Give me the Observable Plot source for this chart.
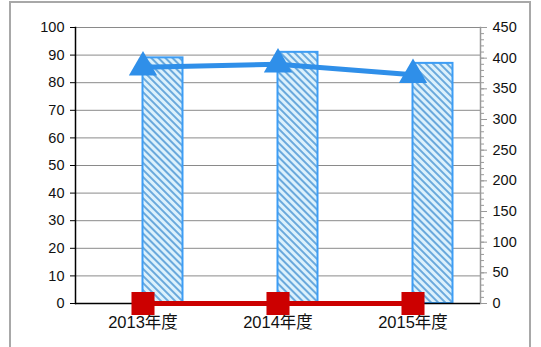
<!DOCTYPE html>
<html><head><meta charset="utf-8">
<script src="https://cdn.jsdelivr.net/npm/d3@7"></script>
<script src="https://cdn.jsdelivr.net/npm/@observablehq/plot@0.6"></script>
<style>
body{margin:0;background:#fff;}
#wrap{position:relative;width:541px;height:347px;overflow:hidden;}
#frame{position:absolute;left:9px;top:1px;width:522px;height:400px;border:2px solid #a8a8a8;box-sizing:border-box;}
#chart{position:absolute;left:0;top:0;}
</style></head>
<body><div id="wrap"><div id="frame"></div><div id="chart"></div></div>
<script>
const categories = ["2013年度", "2014年度", "2015年度"];
const barValues = [89, 91, 87];          // left axis
const triangleValues = [385, 390, 373];  // right axis
const squareValues = [0, 0, 0];
const leftTicks = d3.range(0, 101, 10);
const rightTicks = d3.range(0, 451, 50);
const rightMinor = d3.range(0, 451, 10);
const rightMax = 450, leftMax = 100;
const toLeft = v => v * leftMax / rightMax;

const rows = categories.map((c, i) => ({c, bar: barValues[i], tri: triangleValues[i], sq: squareValues[i]}));

const font = "'Liberation Sans', 'Noto Sans CJK JP', sans-serif";
const chart = Plot.plot({
  width: 541, height: 347,
  marginLeft: 75, marginRight: 61, marginTop: 27, marginBottom: 44,
  style: {fontFamily: font, fontSize: "14px", color: "#111", background: "transparent"},
  x: {domain: categories, padding: 0, axis: null, label: null},
  y: {domain: [0, leftMax], axis: null, label: null},
  marks: [
    Plot.ruleY(leftTicks, {stroke: "#8a8a8a", strokeWidth: 1}),
    Plot.barY(rows, {x: "c", y: "bar", fill: "url(#hatch)", stroke: "#3d9df5", strokeWidth: 2, insetLeft: 67.5, insetRight: 27.5}),
    Plot.axisY({ticks: leftTicks, tickSize: 5, tickPadding: 6, fontSize: 14.5, stroke: "#000", label: null}),
    Plot.frame({anchor: "left", stroke: "#000", strokeWidth: 1.5}),
    Plot.frame({anchor: "right", stroke: "#999", strokeWidth: 1.5}),
    Plot.axisY({anchor: "right", ticks: rightTicks.map(toLeft), tickFormat: d => Math.round(d * rightMax / leftMax), tickSize: 6, tickPadding: 6, fontSize: 14.5, stroke: "#999", label: null}),
    Plot.axisY({anchor: "right", ticks: rightMinor.map(toLeft), tickFormat: null, text: null, tickSize: 3, stroke: "#999", label: null}),
    Plot.axisX({tickSize: 0, tickPadding: 13, fontSize: 16.5, label: null}),
    Plot.ruleY([0], {stroke: "#000", strokeWidth: 1.5}),
    Plot.line(rows, {x: "c", y: "sq", stroke: "#cc0000", strokeWidth: 5}),
    Plot.dot(rows, {x: "c", y: "sq", symbol: "square", r: 13, fill: "#cc0000", stroke: "none"}),
    Plot.line(rows, {x: "c", y: d => toLeft(d.tri), stroke: "#2f8fe9", strokeWidth: 5}),
    Plot.dot(rows, {x: "c", y: d => toLeft(d.tri), symbol: "triangle", r: 10.5, fill: "#2f8fe9", stroke: "none"})
  ]
});
const svg = d3.select(chart);
const defs = svg.insert("defs", ":first-child");
const p = defs.append("pattern").attr("id", "hatch").attr("patternUnits", "userSpaceOnUse")
  .attr("width", 5).attr("height", 5).attr("patternTransform", "rotate(-45)");
p.append("rect").attr("width", 5).attr("height", 5).attr("fill", "#dcf1fc");
p.append("rect").attr("width", 2).attr("height", 5).attr("fill", "#6aa9dc");
document.getElementById("chart").appendChild(chart);
</script>
</body></html>
